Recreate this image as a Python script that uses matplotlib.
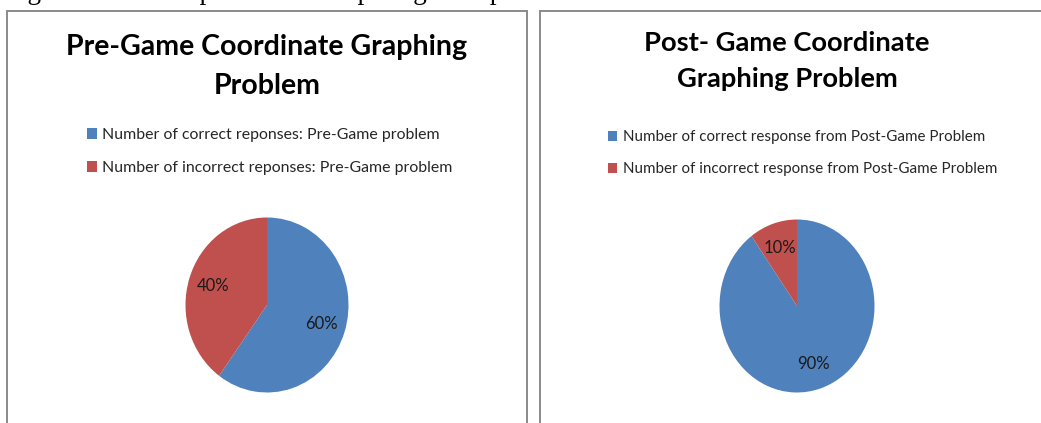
import matplotlib
matplotlib.use('Agg')
import matplotlib.pyplot as plt
from matplotlib.patches import Rectangle

# Pie data for the two graphing problems
pre_labels = ['Number of correct reponses: Pre-Game problem',
              'Number of incorrect reponses: Pre-Game problem']
pre_values = [60, 40]

post_labels = ['Number of correct response from Post-Game Problem',
               'Number of incorrect response from Post-Game Problem']
post_values = [90, 10]

pre_title = 'Pre-Game Coordinate Graphing\nProblem'
post_title = 'Post- Game Coordinate\nGraphing Problem'
caption = 'Figure 4: Student pie charts comparing their performance'

colors = ['#4F81BD', '#C0504D']

W, H = 1041, 423
plt.rcParams['font.family'] = ['Lato', 'DejaVu Sans']

fig = plt.figure(figsize=(W / 100, H / 100), dpi=100)
fig.patch.set_facecolor('white')


def fx(x):
    return x / W


def fy(y):
    return 1 - y / H


# caption line of the page above, cut off by the top edge
fig.text(fx(5), fy(-1), caption, ha='left', va='baseline',
         fontsize=19.5, family='Liberation Serif', color='black')

# chart frames
for left, right in [(7, 527), (540, 1060)]:
    fig.patches.append(Rectangle((fx(left), -0.2), (right - left) / W, fy(11) + 0.2,
                                 transform=fig.transFigure, fill=False,
                                 edgecolor='#8a8a8a', linewidth=1.4))


def draw_pie(values, labels, title, cx, cy, rx, ry, title_x, title_y, title_size,
             leg_x, leg_y, leg_size):
    ax = fig.add_axes([fx(cx - rx), fy(cy + ry), 2 * rx / W, 2 * ry / H])
    wedges, texts, autotexts = ax.pie(values, colors=colors, startangle=90,
                                      counterclock=False, autopct='%d%%',
                                      pctdistance=0.7,
                                      wedgeprops=dict(linewidth=0),
                                      textprops=dict(fontsize=12, color='#1a1a1a'))
    # stretch the pie to fill the axes box
    ax.set_aspect('auto')
    ax.set_xlim(-1, 1)
    ax.set_ylim(-1, 1)

    fig.text(fx(title_x), fy(title_y), title, ha='center', va='top',
             fontsize=title_size, fontweight='bold', color='black',
             linespacing=1.62)

    fig.legend(wedges, labels, loc='upper left',
               bbox_to_anchor=(fx(leg_x), fy(leg_y)), frameon=False,
               fontsize=leg_size, handlelength=0.62, handleheight=0.62,
               handletextpad=0.35, labelspacing=1.2, borderpad=0,
               borderaxespad=0, labelcolor='#262626')


draw_pie(pre_values, pre_labels, pre_title, 267, 305, 81.5, 87.5,
         267, 34, 20.5, 87, 128, 11.4)
draw_pie(post_values, post_labels, post_title, 797, 306, 77.5, 86.5,
         787, 31, 19.7, 608, 130, 10.9)

fig.savefig('out.png', dpi=100, facecolor='white')
